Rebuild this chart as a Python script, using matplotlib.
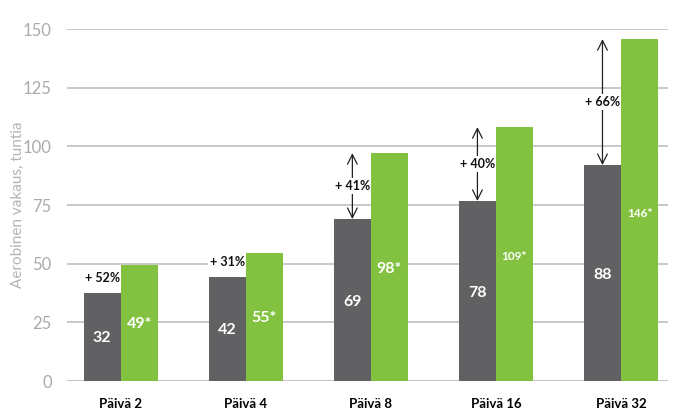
import matplotlib
matplotlib.use("Agg")
import matplotlib.pyplot as plt
import numpy as np

plt.rcParams["font.family"] = ["Lato", "DejaVu Sans"]

categories = ["Päivä 2", "Päivä 4", "Päivä 8", "Päivä 16", "Päivä 32"]
control_values = [37.5, 44.3, 69.0, 76.7, 92.0]
treated_values = [49.4, 54.5, 97.1, 108.2, 145.7]
control_labels = ["32", "42", "69", "78", "88"]
treated_labels = ["49*", "55*", "98*", "109*", "146*"]
pct_labels = ["+ 52%", "+ 31%", "+ 41%", "+ 40%", "+ 66%"]
has_arrow = [False, False, True, True, True]
yticks = [0, 25, 50, 75, 100, 125, 150]
ylabel = "Aerobinen vakaus, tuntia"

GRAY = "#616163"
GREEN = "#83c241"
TICK = "#ababab"

fig = plt.figure(figsize=(6.76, 4.13), dpi=100)
ax = fig.add_axes([67/676, 1-381/413, (668-67)/676, (381-29)/413])

x = np.arange(len(categories))
w = 0.296
ax.bar(x - w/2, control_values, width=w, color=GRAY, zorder=3)
ax.bar(x + w/2, treated_values, width=w, color=GREEN, zorder=8)

ax.set_xlim(-0.43, 4.376)
ax.set_ylim(0, 150)
ax.set_yticks(yticks)
ax.set_yticklabels([str(t) for t in yticks], fontweight="normal")
ax.tick_params(axis="y", length=0, pad=11, labelsize=12, labelcolor=TICK)
ax.tick_params(axis="x", length=0, pad=12, labelsize=9.5)
ax.set_xticks(x)
ax.set_xticklabels(categories, fontweight="bold")
for s in ax.spines.values():
    s.set_visible(False)
for t in yticks:
    ax.axhline(t, color="#c4c4c4", lw=2.2 if t == 0 else 1.3, zorder=1)
ax.set_ylabel(ylabel, color="#b4b4b4", fontsize=11, fontweight="normal")
ax.yaxis.set_label_coords(-42/601, 0.5)

for i in range(len(categories)):
    small = len(treated_labels[i]) > 3
    ax.text(x[i] - w/2, control_values[i] * 0.49, control_labels[i], color="white",
            fontsize=11.5, fontweight="bold", ha="center", va="center", zorder=9)
    ax.text(x[i] + w/2, treated_values[i] * 0.49, treated_labels[i], color="white",
            fontsize=8.5 if small else 11.5, fontweight="bold", ha="center", va="center", zorder=9)
    if has_arrow[i]:
        ax.annotate("", xy=(x[i] - w/2, treated_values[i]), xytext=(x[i] - w/2, control_values[i]),
                    arrowprops=dict(arrowstyle="<->,head_length=0.7,head_width=0.35",
                                    color="#222222", lw=0.9, shrinkA=0, shrinkB=0),
                    zorder=5, annotation_clip=False)
        ymid = control_values[i] + (treated_values[i] - control_values[i]) * 0.5
        ax.text(x[i] - w/2, ymid, pct_labels[i], fontsize=9, fontweight="bold", color="#111111",
                ha="center", va="center", zorder=6,
                bbox=dict(facecolor="white", edgecolor="none", pad=1.2))
    else:
        ax.text(x[i] - w/2, control_values[i] + 6.5, pct_labels[i], fontsize=9, fontweight="bold",
                color="#111111", ha="center", va="center", zorder=6,
                bbox=dict(facecolor="white", edgecolor="none", pad=1.2))

fig.savefig("out.png", dpi=100)
